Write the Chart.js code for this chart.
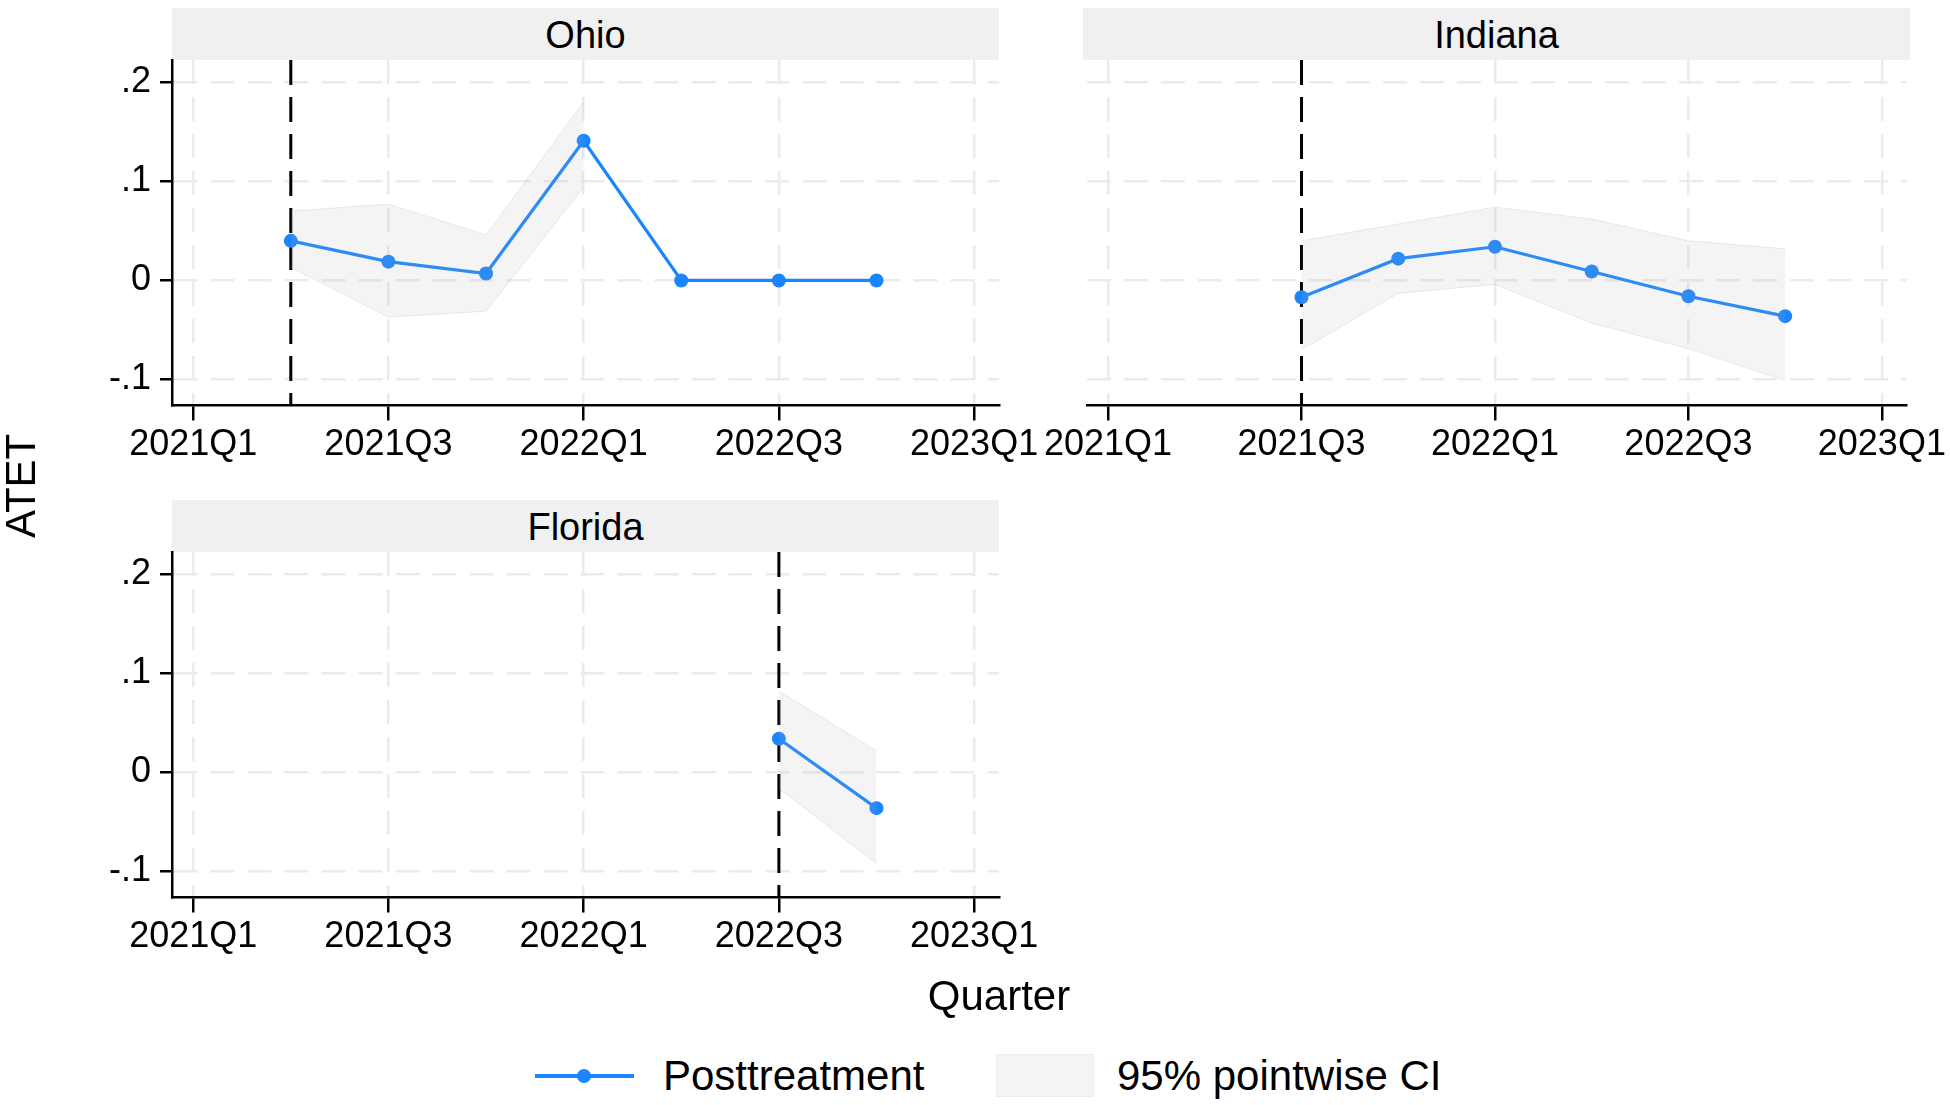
<!DOCTYPE html>
<html>
<head>
<meta charset="utf-8">
<script src="https://cdn.jsdelivr.net/npm/chart.js@4.4.1/dist/chart.umd.min.js"></script>
<style>
  html, body { margin: 0; padding: 0; background: #fff; }
  body {
    width: 1950px; height: 1105px; position: relative; overflow: hidden;
    font-family: "Liberation Sans", Arial, Helvetica, sans-serif; color: #000;
  }
  canvas { position: absolute; }
  .strip {
    position: absolute; background: #f0f0f0; width: 827px; height: 52px;
    line-height: 54px; font-size: 38px; text-align: center;
  }
  .txt { position: absolute; white-space: nowrap; }
</style>
</head>
<body>

<div class="strip" style="left:172px; top:8px;">Ohio</div>
<div class="strip" style="left:1083px; top:8px;">Indiana</div>
<div class="strip" style="left:172px; top:500px;">Florida</div>

<canvas id="c-ohio" width="1060" height="460" style="left:0; top:20px;"></canvas>
<canvas id="c-indiana" width="910" height="460" style="left:1040px; top:20px;"></canvas>
<canvas id="c-florida" width="1060" height="460" style="left:0; top:512px;"></canvas>

<div class="txt" style="left:-29px; top:463px; width:100px; height:50px; line-height:50px; font-size:42px; text-align:center; transform:rotate(-90deg);">ATET</div>
<div class="txt" style="left:899px; top:971px; width:200px; height:50px; line-height:50px; font-size:42px; text-align:center;">Quarter</div>

<!-- legend -->
<div class="txt" style="left:535px; top:1074px; width:99px; height:4px; background:#1a85ff;"></div>
<div class="txt" style="left:577px; top:1069px; width:14px; height:14px; border-radius:50%; background:#1a85ff;"></div>
<div class="txt" style="left:663px; top:1051px; height:50px; line-height:50px; font-size:42px;">Posttreatment</div>
<div class="txt" style="left:996px; top:1054px; width:96px; height:41px; background:#f4f4f4; border:1px solid #ececec;"></div>
<div class="txt" style="left:1117px; top:1051px; height:50px; line-height:50px; font-size:42px;">95% pointwise CI</div>

<script>
var QUARTERS = ['2021Q1', '2021Q2', '2021Q3', '2021Q4', '2022Q1', '2022Q2', '2022Q3', '2022Q4', '2023Q1'];
var X_TICKS = [0, 2, 4, 6, 8];
var Y_TICKS = [-0.1, 0, 0.1, 0.2];
var Y_TICK_LABELS = ['-.1', '0', '.1', '.2'];

// ATET estimates and 95% CI bounds per quarter (null = not estimated)
var OHIO_ATET  = [null, 0.040, 0.019, 0.007, 0.141, 0, 0, 0, null];
var OHIO_UPPER = [null, 0.070, 0.077, 0.046, 0.180, null, null, null, null];
var OHIO_LOWER = [null, 0.013, -0.037, -0.031, 0.094, null, null, null, null];

var IND_ATET  = [null, null, -0.017, 0.022, 0.034, 0.009, -0.016, -0.036, null];
var IND_UPPER = [null, null, 0.040, 0.057, 0.074, 0.062, 0.040, 0.032, null];
var IND_LOWER = [null, null, -0.070, -0.013, -0.004, -0.043, -0.069, -0.101, null];

var FLA_ATET  = [null, null, null, null, null, null, 0.034, -0.036, null];
var FLA_UPPER = [null, null, null, null, null, null, 0.082, 0.022, null];
var FLA_LOWER = [null, null, null, null, null, null, -0.016, -0.092, null];

// first treated quarter (index into QUARTERS)
var OHIO_START = 1;
var IND_START = 2;
var FLA_START = 6;

var X_MIN = -0.217, X_MAX = 8.255;
var Y_MIN = -0.1262, Y_MAX = 0.2225;

var BLUE = '#1a85ff';
var GRID = '#ebebeb';
var FONT = '"Liberation Sans", Arial, Helvetica, sans-serif';

function toPoints(arr) {
  var out = [];
  for (var i = 0; i < arr.length; i++) {
    if (arr[i] !== null) out.push({ x: i, y: arr[i] });
  }
  return out;
}

var treatLine = {
  id: 'treatLine',
  beforeDatasetsDraw: function (chart, args, opts) {
    var ctx = chart.ctx;
    var x = chart.scales.x.getPixelForValue(opts.at);
    var area = chart.chartArea;
    ctx.save();
    ctx.strokeStyle = '#000';
    ctx.lineWidth = 3;
    ctx.setLineDash([25, 12]);
    ctx.beginPath();
    ctx.moveTo(x, area.top);
    ctx.lineTo(x, area.bottom);
    ctx.stroke();
    ctx.restore();
  }
};

function makePanel(id, atet, upper, lower, start, showY, pad) {
  return new Chart(document.getElementById(id), {
    type: 'line',
    data: {
      datasets: [
        {
          label: 'Posttreatment',
          data: toPoints(atet),
          borderColor: BLUE,
          borderWidth: 3.2,
          pointRadius: 7,
          pointBackgroundColor: BLUE,
          pointBorderWidth: 0,
          tension: 0,
          fill: false,
          order: 1
        },
        {
          label: '95% pointwise CI',
          data: toPoints(upper),
          borderColor: 'rgba(170,170,170,0.22)',
          borderWidth: 1,
          backgroundColor: 'rgba(180,180,180,0.14)',
          pointRadius: 0,
          tension: 0,
          fill: '+1',
          order: 0
        },
        {
          label: 'lower',
          data: toPoints(lower),
          borderColor: 'rgba(170,170,170,0.22)',
          borderWidth: 1,
          pointRadius: 0,
          tension: 0,
          fill: false,
          order: 0
        }
      ]
    },
    options: {
      responsive: false,
      animation: false,
      events: [],
      layout: { padding: pad },
      plugins: {
        legend: { display: false },
        tooltip: { enabled: false },
        treatLine: { at: start }
      },
      scales: {
        x: {
          type: 'linear',
          min: X_MIN,
          max: X_MAX,
          afterBuildTicks: function (s) { s.ticks = X_TICKS.map(function (v) { return { value: v }; }); },
          afterFit: function (s) { s.height = 74.5; },
          ticks: {
            autoSkip: false,
            maxRotation: 0,
            minRotation: 0,
            padding: 3,
            color: '#000',
            font: { family: FONT, size: 36 },
            callback: function (v) { return QUARTERS[v]; }
          },
          grid: { color: GRID, lineWidth: 2.5, tickColor: '#000', tickWidth: 2.5, tickLength: 15 },
          border: { display: true, color: '#000', width: 2.5, dash: [24, 13] }
        },
        y: {
          type: 'linear',
          min: Y_MIN,
          max: Y_MAX,
          afterBuildTicks: function (s) { s.ticks = Y_TICKS.map(function (v) { return { value: v }; }); },
          afterFit: function (s) { s.width = showY ? 172 : 0; },
          ticks: {
            display: showY,
            padding: 9,
            color: '#000',
            font: { family: FONT, size: 36 },
            callback: function (v) { return Y_TICK_LABELS[Y_TICKS.indexOf(v)]; }
          },
          grid: {
            color: GRID, lineWidth: 2.5, tickColor: '#000', tickWidth: 2.5,
            tickLength: showY ? 12 : 0, drawTicks: showY
          },
          border: { display: showY, color: '#000', width: 2.5, dash: [24, 13] }
        }
      }
    },
    plugins: [treatLine]
  });
}

makePanel('c-ohio', OHIO_ATET, OHIO_UPPER, OHIO_LOWER, OHIO_START, true, { top: 40, right: 61, bottom: 0, left: 0 });
makePanel('c-indiana', IND_ATET, IND_UPPER, IND_LOWER, IND_START, false, { top: 40, right: 40, bottom: 0, left: 43 });
makePanel('c-florida', FLA_ATET, FLA_UPPER, FLA_LOWER, FLA_START, true, { top: 40, right: 61, bottom: 0, left: 0 });
</script>
</body>
</html>
